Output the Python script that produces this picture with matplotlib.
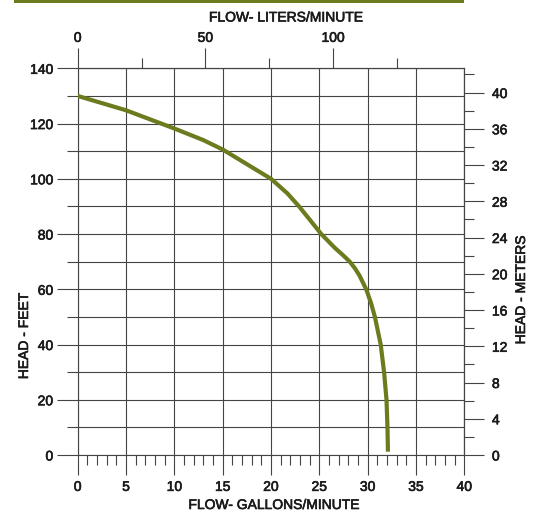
import matplotlib
matplotlib.use("Agg")
import matplotlib.pyplot as plt
import matplotlib.patheffects as pe
from matplotlib.patches import Rectangle
from matplotlib.ticker import MultipleLocator, FixedLocator

# ---- data ----
flow_gpm = [0, 5, 10, 13, 15, 20, 21.7, 22.9, 24.1, 25.2, 26.6, 27.4, 28.15, 28.7, 29.15,
            29.5, 29.85, 30.35, 30.75, 31.35, 31.7, 31.95, 32.05, 32.1]
head_ft = [130, 124.8, 118.2, 114.0, 110.6, 100, 94.7, 90, 84.8, 80, 75, 72.5, 70, 67.5, 65,
           62.5, 60, 55, 50, 40, 30, 20, 10, 1.2]

gpm_ticks = [0, 5, 10, 15, 20, 25, 30, 35, 40]
ft_ticks = [0, 20, 40, 60, 80, 100, 120, 140]
ft_minor = [10, 30, 50, 70, 90, 110, 130]
lpm_ticks = [0, 50, 100]
lpm_minor = [25, 75, 125]
m_ticks = [0, 4, 8, 12, 16, 20, 24, 28, 32, 36, 40]
m_minor = [2, 6, 10, 14, 18, 22, 26, 30, 34, 38, 42]

GAL_TO_L = 3.785
FT_TO_M = 0.3048

plt.rcParams['font.family'] = ['Liberation Sans', 'DejaVu Sans']
TXT = '#1a1a1a'
GRID = '#444444'
GREEN = '#6b7b1e'
BOLDEN = [pe.withStroke(linewidth=0.45, foreground=TXT)]

fig = plt.figure(figsize=(5.37, 5.12), dpi=100)
W, H = 537, 512
ax = fig.add_axes([77.7 / W, 1 - 455 / H, (464.3 - 77.7) / W, (455 - 68.3) / H])

ax.set_xlim(0, 40)
ax.set_ylim(0, 140)

ax.plot(flow_gpm, head_ft, color=GREEN, lw=3.0, zorder=5, solid_capstyle='butt',
        solid_joinstyle='round')

# bottom axis
ax.xaxis.set_major_locator(FixedLocator(gpm_ticks))
ax.xaxis.set_minor_locator(MultipleLocator(1))
ax.tick_params(axis='x', which='major', direction='out', length=14.4, width=0.8,
               color=GRID, labelsize=10, labelcolor=TXT, pad=3.5)
ax.tick_params(axis='x', which='minor', direction='out', length=7.2, width=0.8, color=GRID)

# left axis
ax.yaxis.set_major_locator(FixedLocator(ft_ticks))
ax.yaxis.set_minor_locator(FixedLocator(ft_minor))
ax.tick_params(axis='y', which='major', direction='out', length=15.1, width=0.8,
               color=GRID, labelsize=10, labelcolor=TXT, pad=2.5)
ax.tick_params(axis='y', which='minor', direction='out', length=7.9, width=0.8, color=GRID)

ax.grid(True, axis='x', which='major', color=GRID, lw=0.8)
ax.grid(True, axis='y', which='both', color=GRID, lw=0.8)
for s in ax.spines.values():
    s.set_color(GRID)
    s.set_linewidth(0.8)

# top axis: liters/minute
top = ax.secondary_xaxis('top', functions=(lambda g: g * GAL_TO_L, lambda l: l / GAL_TO_L))
top.xaxis.set_major_locator(FixedLocator(lpm_ticks))
top.xaxis.set_minor_locator(FixedLocator(lpm_minor))
top.tick_params(axis='x', which='major', direction='out', length=14.4, width=0.8,
                color=GRID, labelsize=10, labelcolor=TXT, pad=2.5)
top.tick_params(axis='x', which='minor', direction='out', length=7.2, width=0.8, color=GRID)
for s in top.spines.values():
    s.set_color(GRID)
    s.set_linewidth(0.8)

# right axis: meters
right = ax.secondary_yaxis('right', functions=(lambda f: f * FT_TO_M, lambda m: m / FT_TO_M))
right.yaxis.set_major_locator(FixedLocator(m_ticks))
right.yaxis.set_minor_locator(FixedLocator(m_minor))
right.tick_params(axis='y', which='major', direction='out', length=14.4, width=0.8,
                  color=GRID, labelsize=10, labelcolor=TXT, pad=5.5)
right.tick_params(axis='y', which='minor', direction='out', length=7.2, width=0.8, color=GRID)
for s in right.spines.values():
    s.set_color(GRID)
    s.set_linewidth(0.8)

for lab in (ax.get_xticklabels() + ax.get_yticklabels() +
            top.xaxis.get_ticklabels() + right.yaxis.get_ticklabels()):
    lab.set_path_effects(BOLDEN)

# axis titles
kw = dict(ha='center', va='center', fontsize=10, color=TXT, path_effects=BOLDEN)
fig.text(286 / W, 1 - 17.5 / H, 'FLOW- LITERS/MINUTE', **kw)
fig.text(274 / W, 1 - 505 / H, 'FLOW- GALLONS/MINUTE', **kw)
fig.text(24 / W, 1 - 336 / H, 'HEAD - FEET', rotation=90, **kw)
fig.text(521 / W, 1 - 290 / H, 'HEAD - METERS', rotation=90, **kw)

# green band at top
fig.add_artist(Rectangle((14 / W, 1 - 3.2 / H), (464 - 14) / W, 3.2 / H,
                         transform=fig.transFigure, color=GREEN, lw=0))

fig.savefig('out.png', dpi=100)
